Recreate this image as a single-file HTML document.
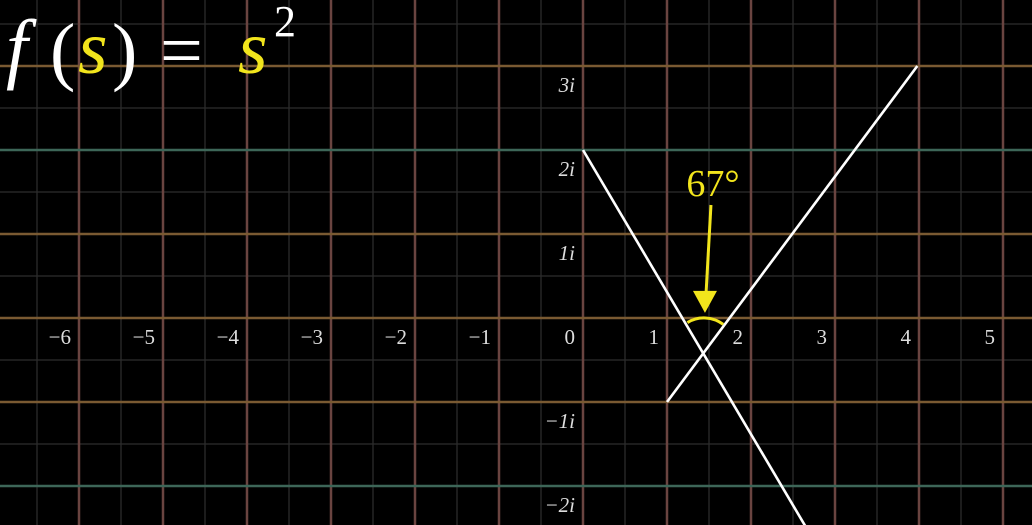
<!DOCTYPE html>
<html><head><meta charset="utf-8"><style>
html,body{margin:0;padding:0;background:#000;width:1032px;height:525px;overflow:hidden;}
svg{display:block;}
text{font-family:"Liberation Serif",serif;}
</style></head><body>
<svg id="c" width="1032" height="525" viewBox="0 0 1032 525">
<rect width="1032" height="525" fill="#000"/>
<g id="grid"></g>
<g id="labels"></g>
<g id="lines"></g>
<g id="anno"></g>
<g>
<text x="6" y="74" font-size="78" font-style="italic" fill="#fff">f</text>
<text x="50" y="76" font-size="76" fill="#fff">(</text>
<text x="78" y="73" font-size="76" font-style="italic" fill="#f2e51c">s</text>
<text x="112" y="76" font-size="76" fill="#fff">)</text>
<text x="160" y="76" font-size="76" fill="#fff">=</text>
<text x="238" y="73" font-size="76" font-style="italic" fill="#f2e51c">s</text>
<text x="274" y="36" font-size="44" fill="#fff">2</text>
</g>
</svg>
<script>
const xTicks=[-6,-5,-4,-3,-2,-1,0,1,2,3,4,5];
const xTickLabels=["−6","−5","−4","−3","−2","−1","0","1","2","3","4","5"];
const yTicks=[3,2,1,-1,-2];
const yTickLabels=["3i","2i","1i","−1i","−2i"];
const lineA=[[0,2],[2.66,-2.5]];
const lineB=[[1,-1],[3.98,3]];
const angleDeg=[67];
const angleCenter=[1.44,-0.38];

const NS="http://www.w3.org/2000/svg";
const U=84, OX=583, OY=318;
const sx=v=>OX+v*U, sy=v=>OY-v*U;
function mk(t,a,p){const e=document.createElementNS(NS,t);for(const k in a)e.setAttribute(k,a[k]);p.appendChild(e);return e;}
const grid=document.getElementById('grid');
for(let i=-7;i<=6;i++){
  const h=mk('line',{x1:sx(i+0.5),x2:sx(i+0.5),y1:0,y2:525,stroke:'#2e2e2e','stroke-width':1.2},grid);
  
  
}
for(let j=-3;j<=4;j++){
  const h=mk('line',{x1:0,x2:1032,y1:sy(j+0.5),y2:sy(j+0.5),stroke:'#2e2e2e','stroke-width':1.2},grid);
  
  
}
for(let i=-7;i<=6;i++){
  const v=mk('line',{x1:sx(i),x2:sx(i),y1:0,y2:525,stroke:'#6a4440','stroke-width':2.5},grid);
  
  
}
for(let j=-3;j<=4;j++){
  const col=(Math.abs(j)%2===0&&j!==0)?'#3d6658':'#7a5a32';
  const v=mk('line',{x1:0,x2:1032,y1:sy(j),y2:sy(j),stroke:col,'stroke-width':2.5},grid);
  
  
}
const lab=document.getElementById('labels');
xTicks.forEach((t,k)=>{
  const e=mk('text',{x:sx(t)-8,y:OY+26,'font-size':21,fill:'#ddd','text-anchor':'end'},lab);
  e.textContent=xTickLabels[k];
  
  
});
yTicks.forEach((t,k)=>{
  const e=mk('text',{x:OX-8,y:sy(t)+26,'font-size':21,fill:'#ddd','text-anchor':'end','font-style':'italic'},lab);
  e.textContent=yTickLabels[k];
  
  
});
const lines=document.getElementById('lines');
[lineA,lineB].forEach((L,k)=>{
  const e=mk('line',{x1:sx(L[0][0]),y1:sy(L[0][1]),x2:sx(L[1][0]),y2:sy(L[1][1]),stroke:'#fff','stroke-width':2.6},lines);
  
  
});
const an=document.getElementById('anno');
const cx=sx(angleCenter[0]), cy=sy(angleCenter[1]);
const aA=Math.atan2(sy(lineA[0][1])-cy,sx(lineA[0][0])-cx);
const aB=Math.atan2(sy(lineB[1][1])-cy,sx(lineB[1][0])-cx);
const R=32;
const arc=mk('path',{d:`M${cx+R*Math.cos(aA)},${cy+R*Math.sin(aA)} A${R},${R} 0 0 1 ${cx+R*Math.cos(aB)},${cy+R*Math.sin(aB)}`,fill:'none',stroke:'#f2e51c','stroke-width':3},an);


const tipY=cy-R-5, tipX=cx+1;
const sh=mk('line',{x1:tipX+6,y1:205,x2:tipX+1,y2:tipY-18,stroke:'#f2e51c','stroke-width':3},an);


const hd=mk('polygon',{points:`${tipX},${tipY} ${tipX-12},${tipY-22} ${tipX+12},${tipY-22}`,fill:'#f2e51c'},an);


const at=mk('text',{x:tipX+8,y:196,'font-size':38,fill:'#f2e51c','text-anchor':'middle'},an);
at.textContent=angleDeg[0]+'°';


</script>
</body></html>
